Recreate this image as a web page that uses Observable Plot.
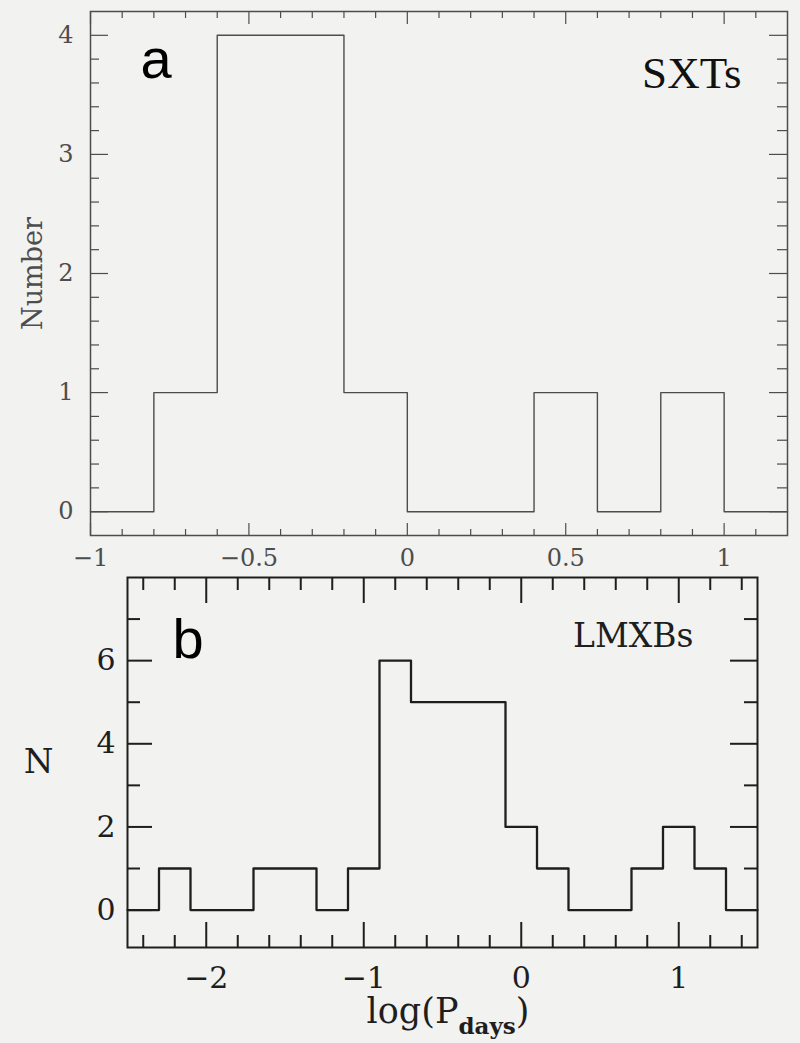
<!DOCTYPE html>
<html><head><meta charset="utf-8">
<script src="https://cdn.jsdelivr.net/npm/d3@7"></script>
<script src="https://cdn.jsdelivr.net/npm/@observablehq/plot@0.6"></script>
<style>
body{margin:0;background:#f2f2f0;}
#c{width:800px;position:relative;}
#c svg{display:block;}
#c svg.panelb{margin-top:-12px;}
</style>
</head><body><div id="c"></div>
<script>
// Panel a: SXTs histogram (bin edges and counts)
const sxtEdges  = [-1.0, -0.8, -0.6, -0.4, -0.2, 0.0, 0.2, 0.4, 0.6, 0.8, 1.0, 1.2];
const sxtCounts = [0, 1, 4, 4, 1, 0, 0, 1, 0, 1, 0];
// Panel b: LMXBs histogram
const lmxbEdges  = [-2.5, -2.3, -2.1, -1.9, -1.7, -1.5, -1.3, -1.1, -0.9, -0.7, -0.5, -0.3, -0.1, 0.1, 0.3, 0.5, 0.7, 0.9, 1.1, 1.3, 1.5];
const lmxbCounts = [0, 1, 0, 0, 1, 1, 0, 1, 6, 5, 5, 5, 2, 1, 0, 0, 1, 2, 1, 0];

// tick values and labels
const aXMajor = [-1, -0.5, 0, 0.5, 1];
const aXLabels = ["−1", "−0.5", "0", "0.5", "1"];
const aYMajor = [0, 1, 2, 3, 4];
const aYLabels = ["0", "1", "2", "3", "4"];
const bXMajor = [-2, -1, 0, 1];
const bXLabels = ["−2", "−1", "0", "1"];
const bYMajor = [0, 2, 4, 6];
const bYLabels = ["0", "2", "4", "6"];

const aXMinor = d3.range(-9, 12).map(i => i / 10).filter(v => !aXMajor.some(m => Math.abs(m - v) < 1e-9));
const aYMinor = d3.range(1, 20).map(i => i / 5).filter(v => !aYMajor.some(m => Math.abs(m - v) < 1e-9));
const bXMinor = d3.range(-12, 8).map(i => i / 5).filter(v => !bXMajor.some(m => Math.abs(m - v) < 1e-9));
const bYMinor = [1, 3, 5, 7];

function stepPoints(edges, counts) {
  const pts = counts.map((c, i) => ({x: edges[i], y: c}));
  pts.push({x: edges[edges.length - 1], y: counts[counts.length - 1]});
  return pts;
}

function tickMarks(H, Wf, xMaj, xMin, yMaj, yMin, L, stroke, sw) {
  const o = {stroke, strokeWidth: sw};
  return [
    Plot.tickX(xMaj, {x: d => d, insetTop: H - L.bMaj, ...o}),
    Plot.tickX(xMin, {x: d => d, insetTop: H - L.bMin, ...o}),
    Plot.tickX(xMaj, {x: d => d, insetBottom: H - L.tMaj, ...o}),
    Plot.tickX(xMin, {x: d => d, insetBottom: H - L.tMin, ...o}),
    Plot.tickY(yMaj, {y: d => d, insetRight: Wf - L.lMaj, ...o}),
    Plot.tickY(yMin, {y: d => d, insetRight: Wf - L.lMin, ...o}),
    Plot.tickY(yMaj, {y: d => d, insetLeft: Wf - L.rMaj, ...o}),
    Plot.tickY(yMin, {y: d => d, insetLeft: Wf - L.rMin, ...o})
  ];
}

const fmt = (major, labels) => d => labels[major.findIndex(m => Math.abs(m - d) < 1e-9)];

// ---------- Panel a ----------
{
  const height = 582, mt = 11, mb = 47, ml = 90, mr = 13;
  const H = height - mt - mb, Wf = 800 - ml - mr;
  const col = "#4d4d4d";
  const svg = Plot.plot({
    width: 800, height, marginTop: mt, marginBottom: mb, marginLeft: ml, marginRight: mr,
    style: {background: "transparent", fontFamily: "DejaVu Serif", fontSize: "24px", color: col},
    x: {domain: [-1, 1.2]},
    y: {domain: [-0.2, 4.2]},
    marks: [
      Plot.frame({stroke: col, strokeWidth: 1.5}),
      ...tickMarks(H, Wf, aXMajor, aXMinor, aYMajor, aYMinor,
        {bMaj: 12, bMin: 6, tMaj: 13, tMin: 7, lMaj: 18, lMin: 9, rMaj: 18, rMin: 10}, col, 1.2),
      Plot.axisX(aXMajor, {tickSize: 0, tickPadding: 13, tickFormat: fmt(aXMajor, aXLabels), fill: col, label: null}),
      Plot.axisY(aYMajor, {tickSize: 0, tickPadding: 17, tickFormat: fmt(aYMajor, aYLabels), fill: col, label: null}),
      Plot.line(stepPoints(sxtEdges, sxtCounts), {x: "x", y: "y", curve: "step-after", stroke: col, strokeWidth: 1.4}),
      Plot.text(["Number"], {frameAnchor: "left", dx: -57, rotate: -90, textAnchor: "middle", fontSize: 27, fill: col, fontFamily: "DejaVu Serif"}),
      Plot.text(["a"], {frameAnchor: "top-left", dx: 50, dy: 66, lineAnchor: "bottom", textAnchor: "start", fontSize: 56, fill: "#000", fontFamily: "Liberation Sans"}),
      Plot.text(["SXTs"], {frameAnchor: "top-right", dx: -46, dy: 76, lineAnchor: "bottom", textAnchor: "end", fontSize: 45, fill: "#111", fontFamily: "Liberation Serif"})
    ]
  });
  document.getElementById("c").appendChild(svg);
}

// ---------- Panel b ----------
{
  const height = 473, mt = 7, mb = 96, ml = 127, mr = 43;
  const H = height - mt - mb, Wf = 800 - ml - mr;
  const col = "#1e1e1e";
  const svg = Plot.plot({
    width: 800, height, marginTop: mt, marginBottom: mb, marginLeft: ml, marginRight: mr,
    style: {background: "transparent", fontFamily: "DejaVu Serif", fontSize: "30px", color: col},
    x: {domain: [-2.5, 1.5]},
    y: {domain: [-0.9, 8]},
    marks: [
      Plot.frame({stroke: col, strokeWidth: 2}),
      ...tickMarks(H, Wf, bXMajor, bXMinor, bYMajor, bYMinor,
        {bMaj: 25, bMin: 12, tMaj: 26, tMin: 13, lMaj: 25, lMin: 13, rMaj: 27, rMin: 13}, col, 2),
      Plot.axisX(bXMajor, {tickSize: 0, tickPadding: 19, tickFormat: fmt(bXMajor, bXLabels), fill: col, label: null}),
      Plot.axisY(bYMajor, {tickSize: 0, tickPadding: 12, tickFormat: fmt(bYMajor, bYLabels), fill: col, label: null}),
      Plot.line(stepPoints(lmxbEdges, lmxbCounts), {x: "x", y: "y", curve: "step-after", stroke: col, strokeWidth: 2.3}),
      Plot.text(["N"], {frameAnchor: "left", dx: -89, textAnchor: "middle", fontSize: 34, fill: col, fontFamily: "DejaVu Serif"}),
      Plot.text(["b"], {frameAnchor: "top-left", dx: 45, dy: 80, lineAnchor: "bottom", textAnchor: "start", fontSize: 56, fill: "#000", fontFamily: "Liberation Sans"}),
      Plot.text(["LMXBs"], {frameAnchor: "top-right", dx: -64, dy: 69, lineAnchor: "bottom", textAnchor: "end", fontSize: 33, fill: col, fontFamily: "DejaVu Serif"})
    ]
  });
  svg.classList.add("panelb");
  const t = d3.select(svg).append("text")
    .attr("x", 448).attr("y", 453)
    .attr("text-anchor", "middle")
    .attr("font-family", "DejaVu Serif").attr("font-size", 35).attr("fill", col);
  t.append("tspan").text("log(P");
  t.append("tspan").attr("dy", 11).attr("font-size", 23).attr("font-weight", "bold").text("days");
  t.append("tspan").attr("dy", -11).text(")");
  document.getElementById("c").appendChild(svg);
}
</script>
</body></html>
